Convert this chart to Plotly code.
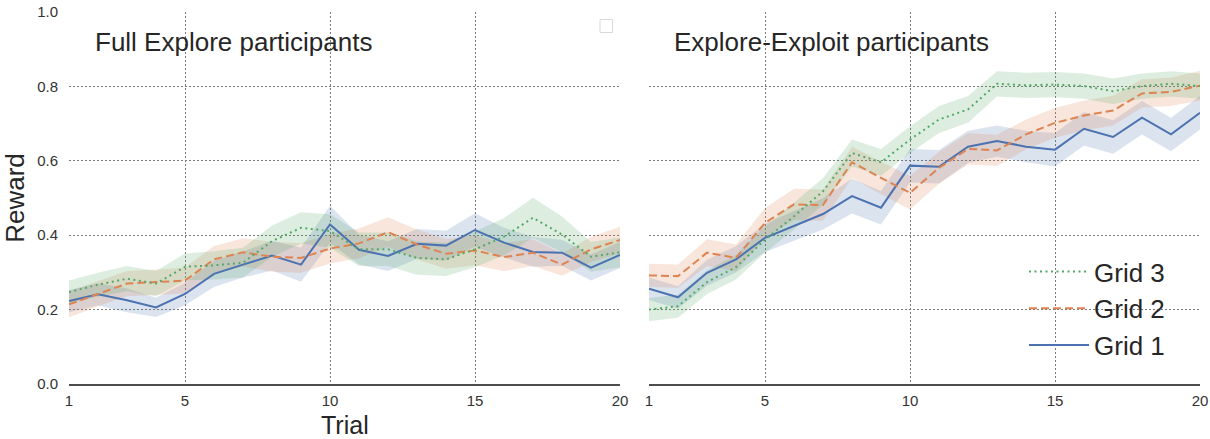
import plotly.graph_objects as go

# Trials on the x axis
trials = list(range(1, 21))

# Mean reward per trial, Full Explore participants
full_grid1 = [0.223, 0.241, 0.225, 0.206, 0.242, 0.296, 0.321, 0.345, 0.321, 0.429,
              0.361, 0.344, 0.377, 0.372, 0.414, 0.380, 0.355, 0.353, 0.313, 0.347]
full_grid2 = [0.214, 0.243, 0.270, 0.274, 0.278, 0.335, 0.354, 0.342, 0.339, 0.364,
              0.378, 0.408, 0.375, 0.350, 0.359, 0.341, 0.353, 0.321, 0.362, 0.387]
full_grid3 = [0.247, 0.267, 0.283, 0.270, 0.315, 0.319, 0.326, 0.384, 0.420, 0.411,
              0.362, 0.362, 0.339, 0.335, 0.362, 0.396, 0.447, 0.402, 0.342, 0.354]

# Confidence half-widths, Full Explore participants
full_ci1 = [0.030, 0.030, 0.032, 0.026, 0.030, 0.035, 0.035, 0.040, 0.046, 0.050,
            0.040, 0.040, 0.040, 0.040, 0.045, 0.040, 0.040, 0.035, 0.035, 0.035]
full_ci2 = [0.035, 0.034, 0.034, 0.034, 0.035, 0.036, 0.038, 0.040, 0.040, 0.040,
            0.040, 0.040, 0.040, 0.040, 0.040, 0.038, 0.036, 0.030, 0.034, 0.036]
full_ci3 = [0.031, 0.032, 0.034, 0.034, 0.036, 0.038, 0.040, 0.042, 0.042, 0.045,
            0.045, 0.045, 0.045, 0.045, 0.048, 0.050, 0.054, 0.048, 0.040, 0.040]

# Mean reward per trial, Explore-Exploit participants
ee_grid1 = [0.256, 0.233, 0.299, 0.335, 0.393, 0.426, 0.457, 0.505, 0.474, 0.587,
            0.584, 0.638, 0.653, 0.638, 0.630, 0.686, 0.664, 0.716, 0.671, 0.729]
ee_grid2 = [0.292, 0.290, 0.353, 0.339, 0.433, 0.483, 0.481, 0.596, 0.554, 0.514,
            0.581, 0.632, 0.628, 0.671, 0.702, 0.722, 0.735, 0.781, 0.785, 0.802]
ee_grid3 = [0.200, 0.209, 0.274, 0.314, 0.388, 0.451, 0.518, 0.621, 0.596, 0.657,
            0.711, 0.738, 0.807, 0.803, 0.805, 0.801, 0.787, 0.801, 0.807, 0.801]

# Confidence half-widths, Explore-Exploit participants
ee_ci1 = [0.030, 0.030, 0.035, 0.035, 0.038, 0.040, 0.042, 0.047, 0.045, 0.045,
          0.045, 0.043, 0.042, 0.042, 0.045, 0.045, 0.045, 0.045, 0.045, 0.045]
ee_ci2 = [0.031, 0.031, 0.036, 0.036, 0.040, 0.042, 0.042, 0.042, 0.044, 0.045,
          0.043, 0.042, 0.042, 0.040, 0.040, 0.040, 0.040, 0.038, 0.038, 0.040]
ee_ci3 = [0.031, 0.031, 0.032, 0.033, 0.035, 0.036, 0.036, 0.036, 0.036, 0.036,
          0.036, 0.036, 0.034, 0.034, 0.034, 0.034, 0.034, 0.034, 0.034, 0.034]

series_names = ["Grid 1", "Grid 2", "Grid 3"]
legend_ranks = [3, 2, 1]
line_colors = ["#4C72B0", "#DD8452", "#55A868"]
band_colors = ["rgba(76,114,176,0.20)", "rgba(221,132,82,0.20)", "rgba(85,168,104,0.20)"]
dashes = ["solid", "8px,4px", "2px,3.5px"]

FONT = "Liberation Sans, Arial, sans-serif"
TEXT = "#262626"

fig = go.Figure()

panels = [
    ("x", "y", [full_grid1, full_grid2, full_grid3], [full_ci1, full_ci2, full_ci3], False),
    ("x2", "y2", [ee_grid1, ee_grid2, ee_grid3], [ee_ci1, ee_ci2, ee_ci3], True),
]

for xa, ya, means, cis, show_leg in panels:
    # shaded confidence bands
    for i, (m, c) in enumerate(zip(means, cis)):
        upper = [a + b for a, b in zip(m, c)]
        lower = [a - b for a, b in zip(m, c)]
        fig.add_trace(go.Scatter(
            x=trials + trials[::-1], y=upper + lower[::-1],
            xaxis=xa, yaxis=ya, fill="toself", fillcolor=band_colors[i],
            line=dict(width=0), mode="lines", hoverinfo="skip", showlegend=False))
    # mean lines
    for i, m in enumerate(means):
        fig.add_trace(go.Scatter(
            x=trials, y=m, xaxis=xa, yaxis=ya, mode="lines",
            name=series_names[i], legendgroup=series_names[i],
            legendrank=legend_ranks[i],
            line=dict(color=line_colors[i], width=2, dash=dashes[i]),
            showlegend=show_leg))

grid_style = dict(showgrid=True, gridcolor="#7a7a7a", gridwidth=1, griddash="2px,2px",
                  zeroline=False, automargin=False)
xcommon = dict(range=[1, 20], tickvals=[1, 5, 10, 15, 20], ticks="",
               showline=True, linecolor="#4d4d4d", linewidth=2,
               tickfont=dict(family=FONT, size=15, color="#333333"),
               ticklabelstandoff=2, **grid_style)
ycommon = dict(range=[0, 1], tickvals=[0, 0.2, 0.4, 0.6, 0.8, 1.0], ticks="",
               showline=False, tickformat=".1f",
               tickfont=dict(family=FONT, size=15, color="#333333"),
               **grid_style)

left_w = 551 / 1141
right_x0 = (649 - 69) / 1141


def py(pixel_y):
    """Convert a pixel row to paper y (plot area spans rows 12..384)."""
    return 1 - (pixel_y - 12) / 372


fig.update_layout(
    width=1210, height=439,
    margin=dict(l=69, r=0, t=12, b=55, autoexpand=False),
    plot_bgcolor="white", paper_bgcolor="white",
    font=dict(family=FONT, color=TEXT),
    xaxis=dict(domain=[0, left_w], anchor="y", **xcommon),
    xaxis2=dict(domain=[right_x0, 1 - 10 / 1141], anchor="y2", **xcommon),
    yaxis=dict(domain=[0, 1], anchor="x",
               title=dict(text="Reward", font=dict(size=26, color=TEXT), standoff=6),
               ticklabelstandoff=10, **ycommon),
    yaxis2=dict(domain=[0, 1], anchor="x2", showticklabels=False, **ycommon),
    showlegend=True,
    legend=dict(
        x=(1024 - 69) / 1141, y=py(248), xanchor="left", yanchor="top",
        traceorder="grouped", tracegroupgap=0,
        itemwidth=60,
        font=dict(family=FONT, size=26, color=TEXT),
        bgcolor="rgba(255,255,255,0)", borderwidth=0),
    annotations=[
        dict(text="Full Explore participants", xref="paper", yref="paper",
             x=(93 - 69) / 1141, y=py(42), xanchor="left", yanchor="middle",
             showarrow=False, font=dict(family=FONT, size=26, color=TEXT)),
        dict(text="Explore-Exploit participants", xref="paper", yref="paper",
             x=(672 - 69) / 1141, y=py(42), xanchor="left", yanchor="middle",
             showarrow=False, font=dict(family=FONT, size=26, color=TEXT)),
        # x-axis title under the left panel
        dict(text="Trial", xref="paper", yref="paper",
             x=left_w / 2, y=py(440), xanchor="center", yanchor="bottom",
             showarrow=False, borderpad=0,
             font=dict(family=FONT, size=25, color=TEXT)),
    ],
    shapes=[
        # empty legend frame in the left panel corner
        dict(type="rect", xref="paper", yref="paper",
             x0=(600 - 69) / 1141, x1=(612.5 - 69) / 1141,
             y0=py(32.5), y1=py(19.5),
             line=dict(color="#d9d9d9", width=1), fillcolor="white"),
    ],
)

fig.write_html("out.html")
